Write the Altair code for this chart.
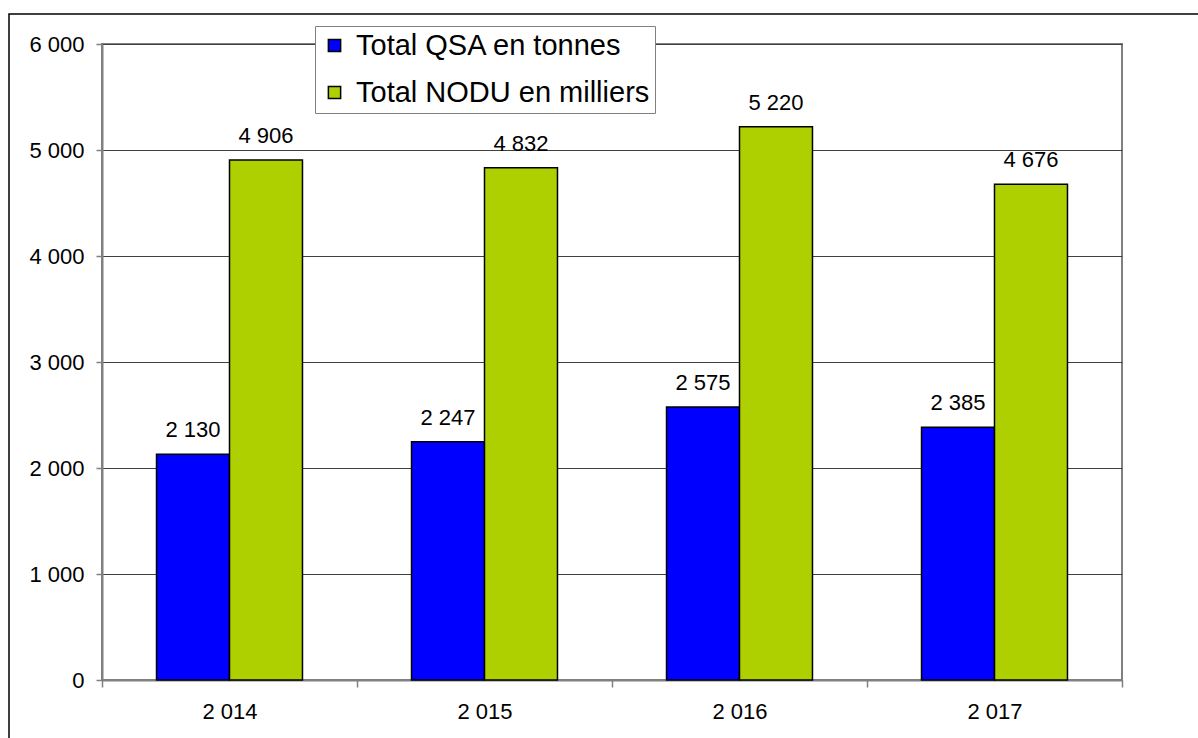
import altair as alt
import pandas as pd

years = ["2 014", "2 015", "2 016", "2 017"]
series = ["Total QSA en tonnes", "Total NODU en milliers"]
qsa = [2130, 2247, 2575, 2385]
nodu = [4906, 4832, 5220, 4676]
colors = ["#0000FF", "#AFD000"]
y_ticks = [0, 1000, 2000, 3000, 4000, 5000, 6000]

rows = []
for i, y in enumerate(years):
    rows.append({"year": y, "series": series[0], "value": qsa[i]})
    rows.append({"year": y, "series": series[1], "value": nodu[i]})
df = pd.DataFrame(rows)

FONT = "Liberation Sans"

x_enc = alt.X(
    "year:N", sort=years,
    scale=alt.Scale(paddingInner=0, paddingOuter=0),
    axis=alt.Axis(
        title=None, labelAngle=0, tickBand="extent", grid=False,
        domainColor="#808080", domainWidth=2, tickColor="#808080", tickWidth=1.5,
        tickSize=7, labelFontSize=22, labelFont=FONT, labelColor="black",
        labelPadding=14,
    ),
)
xoff_enc = alt.XOffset("series:N", sort=series,
                       scale=alt.Scale(paddingOuter=0.747, paddingInner=0))
y_enc = alt.Y(
    "value:Q",
    scale=alt.Scale(domain=[0, 6000], nice=False),
    axis=alt.Axis(
        title=None, values=y_ticks, grid=True, gridColor="#404040", gridWidth=1,
        domainColor="#808080", domainWidth=2, tickColor="#808080", tickWidth=1.5,
        tickSize=6, labelFontSize=22, labelFont=FONT, labelColor="black",
        labelPadding=12,
        labelExpr="replace(format(datum.value, ','), ',', ' ')",
    ),
)

bars = alt.Chart(df).mark_bar(stroke="black", strokeWidth=1.5).encode(
    x=x_enc,
    xOffset=xoff_enc,
    y=y_enc,
    color=alt.Color(
        "series:N", sort=series,
        scale=alt.Scale(domain=series, range=colors),
        legend=alt.Legend(
            title=None, orient="none", legendX=213, legendY=-18,
            symbolType="square", symbolSize=150, symbolStrokeColor="black",
            symbolStrokeWidth=1.5, symbolOpacity=1,
            labelFontSize=29, labelFont=FONT, labelColor="black",
            labelOffset=7, rowPadding=17, padding=5,
            fillColor="white", strokeColor="#808080",
            labelLimit=500,
        ),
    ),
)

labels = alt.Chart(df).transform_calculate(
    lab="replace(format(datum.value, ','), ',', ' ')"
).mark_text(baseline="bottom", dy=-12, fontSize=22, font=FONT, color="black").encode(
    x=alt.X("year:N", sort=years),
    xOffset=alt.XOffset("series:N", sort=series),
    y="value:Q",
    text="lab:N",
)

frame = alt.Chart(pd.DataFrame({"a": [0]})).mark_rect(
    fill=None, stroke="black", strokeWidth=1.5
).encode(
    x=alt.value(-93), y=alt.value(-30), x2=alt.value(1300), y2=alt.value(800)
)

chart = alt.layer(frame, bars, labels).properties(
    width=1020, height=636,
    autosize=alt.AutoSizeParams(type="none"),
    padding={"left": 102, "top": 44, "right": 76, "bottom": 58},
    background="white",
).configure_view(stroke="#808080", strokeWidth=2)

chart.save("out.html", embed_options={"renderer": "svg", "actions": False})
